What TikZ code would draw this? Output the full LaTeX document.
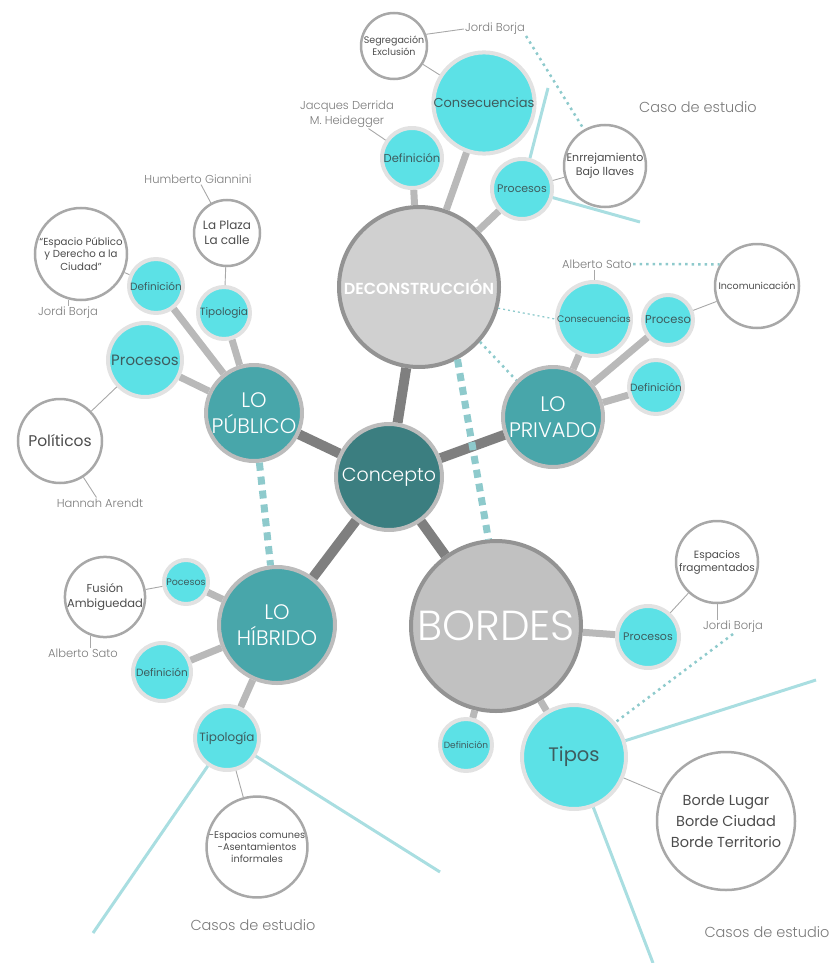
\documentclass[tikz,border=0pt]{standalone}
\usepackage{fontspec}
\setmainfont{Poppins Light}[BoldFont={Poppins SemiBold}]
\newfontfamily\regfont{Poppins}
\usetikzlibrary{positioning}

\definecolor{conceptteal}{HTML}{3B7E80}
\definecolor{branchteal}{HTML}{48A6AA}
\definecolor{subcyan}{HTML}{5CE1E6}
\definecolor{ringlight}{HTML}{E2E2E2}
\definecolor{ringmid}{HTML}{BCBCBC}
\definecolor{ringdark}{HTML}{939393}
\definecolor{deconfill}{HTML}{D0D0D0}
\definecolor{bordesfill}{HTML}{C1C1C1}
\definecolor{trunkgray}{HTML}{7F7F7F}
\definecolor{twiggray}{HTML}{B9B9B9}
\definecolor{wiregray}{HTML}{A8A8A8}
\definecolor{studyteal}{HTML}{A9DEE1}
\definecolor{dashteal}{HTML}{8ECACC}
\definecolor{labelgray}{HTML}{7A7A7A}
\definecolor{subtext}{HTML}{3E5C5E}
\definecolor{leaftext}{HTML}{4D4D4D}

\newcommand{\fsz}[1]{\fontsize{#1}{1.25\dimexpr#1pt\relax}\selectfont}

\begin{document}
\begin{tikzpicture}[
    x=1pt, y=-1pt,
    concept/.style={circle, fill=conceptteal, draw=ringmid, line width=4pt, text=white, inner sep=0pt, align=center},
    branch/.style={circle, fill=branchteal, draw=ringmid, line width=4pt, text=white, inner sep=0pt, align=center},
    hub/.style={circle, draw=ringdark, line width=4pt, text=white, inner sep=0pt, align=center},
    sub/.style={circle, fill=subcyan, draw=ringlight, line width=4pt, text=subtext, inner sep=0pt, align=center},
    leaf/.style={circle, fill=white, draw=wiregray, line width=2.5pt, text=leaftext, inner sep=0pt, align=center},
    author/.style={text=labelgray, inner sep=1pt, align=center, font=\fsz{11.5}},
    trunk/.style={draw=trunkgray, line width=10pt},
    twig/.style={draw=twiggray, line width=7pt},
    wire/.style={draw=wiregray, line width=0.9pt},
    study/.style={draw=studyteal, line width=3pt},
    bridge/.style={draw=dashteal, line width=7pt, dash pattern=on 8pt off 6pt},
    dotline/.style={draw=dashteal, line width=2.5pt, dash pattern=on 2.5pt off 4pt},
]
    \useasboundingbox (0,0) rectangle (836,963);

    % centre
    \node[concept, minimum size=106, font=\fsz{19}] (concepto) at (389,477) {Concepto};

    % main branches
    \node[hub, fill=deconfill, minimum size=160, font=\bfseries\fsz{16}] (decon) at (419,287) {DECONSTRUCCIÓN};
    \node[branch, minimum size=96, font=\fsz{21}] (publico) at (254,413) {LO\\PÚBLICO};
    \node[branch, minimum size=100, font=\fsz{21}] (privado) at (553,417) {LO\\PRIVADO};
    \node[branch, minimum size=116, font=\fsz{21}] (hibrido) at (277,625) {LO\\HÍBRIDO};
    \node[hub, fill=bordesfill, minimum size=170, font=\fsz{42}] (bordes) at (496,626) {BORDES};

    % deconstruccion
    \node[sub, minimum size=92, font=\regfont\fsz{13}] (consec) at (484,103) {Consecuencias};
    \node[sub, minimum size=60, font=\regfont\fsz{11.5}] (defDecon) at (412,158) {Definición};
    \node[sub, minimum size=60, font=\regfont\fsz{11}] (procDecon) at (522,189) {Procesos};
    \node[leaf, minimum size=66, font=\regfont\fsz{9.5}] (segreg) at (394,46) {Segregación\\Exclusión};
    \node[leaf, minimum size=82, font=\regfont\fsz{11}] (enrrej) at (605,166) {Enrrejamiento\\Bajo llaves};
    \node[author] (jbTop) at (495,29) {Jordi Borja};
    \node[author, font=\fontsize{11.5}{15}\selectfont] (derrida) at (347,114) {Jacques Derrida\\M. Heidegger};
    \node[author, font=\fsz{14.5}] (casoTop) at (698,107) {Caso de estudio};
    \coordinate (dA) at (548,88);
    \coordinate (dB) at (640,222);

    % lo publico
    \node[sub, minimum size=74, font=\regfont\fsz{15}] (procPub) at (145,360) {Procesos};
    \node[sub, minimum size=54, font=\regfont\fsz{10.5}] (defPub) at (156,286) {Definición};
    \node[sub, minimum size=52, font=\regfont\fsz{10.5}] (tipPub) at (224,313) {Tipologia};
    \node[leaf, minimum size=66, font=\regfont\fsz{12}] (plaza) at (227,233) {La Plaza\\La calle};
    \node[leaf, minimum size=92, font=\regfont\fsz{10.2}] (esppub) at (81,254) {“Espacio Público\\y Derecho a la\\Ciudad”};
    \node[leaf, minimum size=84, font=\regfont\fsz{15.5}] (politicos) at (60,441) {Políticos};
    \node[author] (giannini) at (198,179) {Humberto Giannini};
    \node[author] (jbLeft) at (68,313) {Jordi Borja};
    \node[author] (arendt) at (100,503) {Hannah Arendt};

    % lo privado
    \node[sub, minimum size=74, font=\regfont\fsz{9.5}] (consPriv) at (594,319) {Consecuencias};
    \node[sub, minimum size=50, font=\regfont\fsz{11.5}] (procPriv) at (668,320) {Proceso};
    \node[sub, minimum size=54, font=\regfont\fsz{10.5}] (defPriv) at (656,387) {Definición};
    \node[leaf, minimum size=84, font=\regfont\fsz{9.5}] (incom) at (757,286) {Incomunicación};
    \node[author] (satoPriv) at (597,264) {Alberto Sato};

    % lo hibrido
    \node[sub, minimum size=44, font=\regfont\fsz{9.5}] (pocesos) at (186,582) {Pocesos};
    \node[sub, minimum size=58, font=\regfont\fsz{10.5}] (defHib) at (162,672) {Definición};
    \node[sub, minimum size=64, font=\regfont\fsz{12}] (tipHib) at (227,738) {Tipología};
    \node[leaf, minimum size=78, font=\regfont\fsz{11.5}] (fusion) at (105,597) {Fusión\\Ambiguedad};
    \node[leaf, minimum size=100, font=\regfont\fsz{9.7}] (espcom) at (257,847) {-Espacios comunes\\-Asentamientos\\informales};
    \node[author] (satoHib) at (83,653) {Alberto Sato};
    \node[author, font=\fsz{14.5}] (casosHib) at (253,925) {Casos de estudio};
    \coordinate (hA) at (93,933);
    \coordinate (hB) at (440,872);

    % bordes
    \node[sub, minimum size=62, font=\regfont\fsz{11}] (procBor) at (648,637) {Procesos};
    \node[sub, minimum size=52, font=\regfont\fsz{9}] (defBor) at (466,745) {Definición};
    \node[sub, minimum size=104, font=\regfont\fsz{19.5}] (tipos) at (574,757) {Tipos};
    \node[leaf, minimum size=82, font=\regfont\fsz{10.5}] (espfrag) at (717,562) {Espacios\\fragmentados};
    \node[leaf, minimum size=138, font=\regfont\fontsize{14.5}{21}\selectfont] (bordeLugar) at (726,821) {Borde Lugar\\Borde Ciudad\\Borde Territorio};
    \node[author] (jbBor) at (733,627) {Jordi Borja};
    \node[author, font=\fsz{14.5}] (casosBor) at (767,932) {Casos de estudio};
    \coordinate (bA) at (816,680);
    \coordinate (bB) at (653,963);

    \path[trunk]
        (concepto) edge (decon)
        (concepto) edge (publico)
        (concepto) edge (privado)
        (concepto) edge (hibrido)
        (concepto) edge (bordes)
    ;
    \path[twig]
        (decon)   edge (defDecon)  edge (consec)   edge (procDecon)
        (publico) edge (defPub)    edge (tipPub)   edge (procPub)
        (privado) edge (consPriv)  edge (procPriv) edge (defPriv)
        (hibrido) edge (pocesos)   edge (defHib)   edge (tipHib)
        (bordes)  edge (procBor)   edge (defBor)   edge (tipos)
    ;
    \path[wire]
        (consec)    edge (segreg)
        (segreg.20) edge (jbTop.west)
        (defDecon)  edge (derrida)
        (procDecon) edge (enrrej)
        (plaza)     edge (tipPub)
        (plaza)     edge (giannini)
        (esppub)    edge (defPub)
        (jbLeft.north -| esppub.255) edge (esppub.255)
        (procPub)   edge (politicos)
        (politicos) edge (arendt)
        (satoPriv.south -| consPriv.north) edge (consPriv.north)
        (procPriv)  edge (incom)
        (fusion)    edge (pocesos)
        (satoHib.north -| fusion.250) edge (fusion.250)
        (tipHib)    edge (espcom)
        (procBor)   edge (espfrag)
        (jbBor.north -| espfrag.south) edge (espfrag.south)
        (tipos)     edge (bordeLugar)
    ;
    \path[study]
        (procDecon) edge (dA) edge (dB)
        (tipHib)    edge (hA) edge (hB)
        (tipos)     edge (bA) edge (bB)
    ;
    \path[bridge]
        (publico)   edge (hibrido)
        (decon.298) edge (bordes.95)
    ;
    \path[dotline]
        (jbTop.south east) edge (enrrej.120)
        (satoPriv.east)    edge (incom.150)
        (decon.318)        edge (privado.135)
        (jbBor.south)      edge (tipos.40)
    ;
    \path[dotline, line width=1.3pt, dash pattern=on 2pt off 3pt]
        (decon.345) edge (consPriv.west)
    ;
\end{tikzpicture}
\end{document}
